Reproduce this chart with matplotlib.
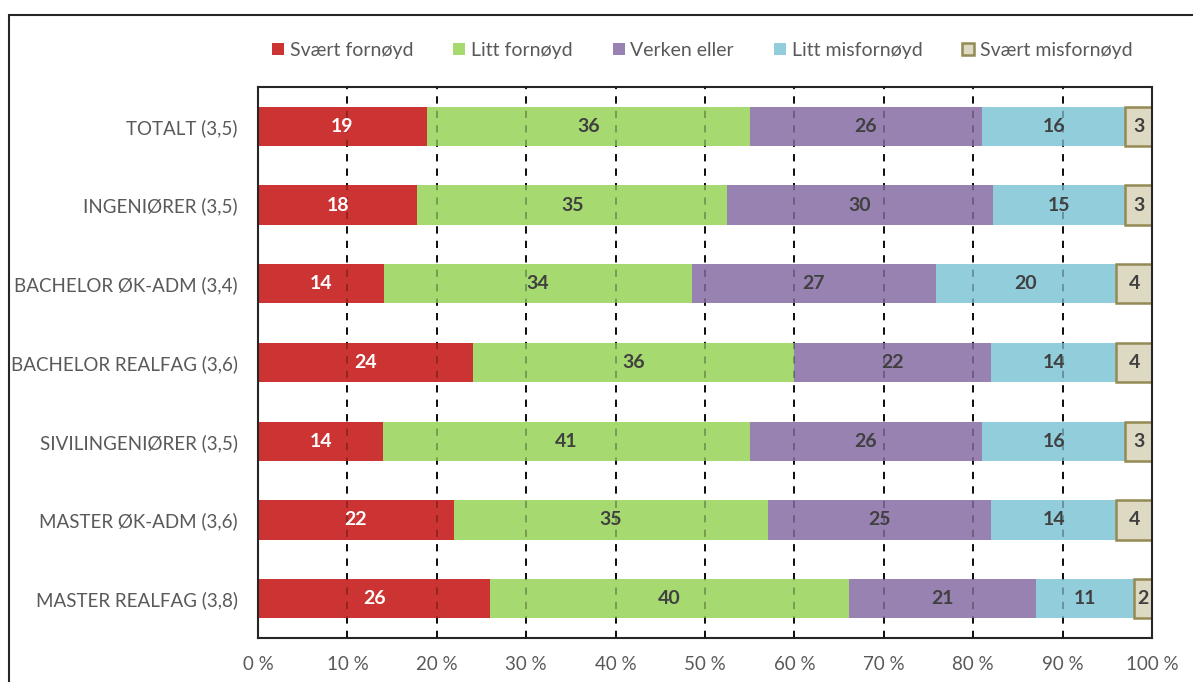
import numpy as np
import matplotlib.pyplot as plt
from matplotlib.patches import Rectangle

plt.rcParams['font.family'] = ['Lato', 'DejaVu Sans']

categories = ["TOTALT (3,5)", "INGENIØRER (3,5)", "BACHELOR ØK-ADM (3,4)",
              "BACHELOR REALFAG (3,6)", "SIVILINGENIØRER (3,5)",
              "MASTER ØK-ADM (3,6)", "MASTER REALFAG (3,8)"]
series_names = ["Svært fornøyd", "Litt fornøyd", "Verken eller",
                "Litt misfornøyd", "Svært misfornøyd"]

svaert_fornoyd = [18.9, 17.8, 14.1, 24.0, 14.0, 21.9, 26.0]
litt_fornoyd = [36.1, 34.7, 34.4, 36.0, 41.0, 35.1, 40.1]
verken_eller = [26.0, 29.7, 27.3, 22.0, 26.0, 25.0, 20.9]
litt_misfornoyd = [16.0, 14.8, 20.2, 14.0, 16.0, 14.0, 11.0]
svaert_misfornoyd = [3.0, 3.0, 4.0, 4.0, 3.0, 4.0, 2.0]

ticks = [0, 10, 20, 30, 40, 50, 60, 70, 80, 90, 100]
tick_labels = [f"{t} %" for t in ticks]

series = [svaert_fornoyd, litt_fornoyd, verken_eller, litt_misfornoyd, svaert_misfornoyd]
colors = ["#CC3333", "#A6D96F", "#9882B2", "#92CDDC", "#DDD9C3"]
edges = [None, None, None, None, "#948A54"]
label_colors = ["white", "#404040", "#404040", "#404040", "#404040"]
grey = "#595959"

fig = plt.figure(figsize=(11.93, 6.82), dpi=100)
ax = fig.add_axes([258 / 1193, 1 - 638 / 682, (1152 - 258) / 1193, (638 - 87) / 682])

# outer chart frame
fig.patches.append(Rectangle((9 / 1193, -0.1), 1.2, 1.1 - 15 / 682, transform=fig.transFigure,
                             fill=False, edgecolor="#262626", linewidth=1.5))

y = np.arange(len(categories))
left = np.zeros(len(categories))
for vals, name, c, ec, lc in zip(series, series_names, colors, edges, label_colors):
    vals = np.array(vals)
    if ec:
        ax.barh(y, vals, left=left, height=0.5, color=c, edgecolor=ec,
                linewidth=1.8, label=name, zorder=2)
    else:
        ax.barh(y, vals, left=left, height=0.5, color=c, label=name, zorder=2)
    for yi, l, v in zip(y, left, vals):
        ax.text(l + v / 2, yi, f"{v:.0f}", ha="center", va="center",
                fontsize=14, fontweight="bold", color=lc, zorder=4)
    left = left + vals

# dashed gridlines: black behind bars, faint on top of them
for t in ticks[1:-1]:
    ax.axvline(t, color="black", linestyle=(0, (4, 4)), linewidth=1.3, zorder=1)
    ax.axvline(t, color="black", linestyle=(0, (4, 4)), linewidth=1.3, alpha=0.3, zorder=3)

ax.set_xlim(0, 100)
ax.set_ylim(len(categories) - 0.5, -0.5)
ax.set_yticks(y)
ax.set_yticklabels(categories, fontsize=13.5, color=grey)
ax.set_xticks(ticks)
ax.set_xticklabels(tick_labels, fontsize=13.5, color=grey)
ax.tick_params(length=0, pad=13)
ax.tick_params(axis="y", pad=14.5)
for s in ax.spines.values():
    s.set_color("#262626")
    s.set_linewidth(1.5)

fig.legend(loc="upper left", bbox_to_anchor=(268 / 1193, 1 - 38 / 682), ncol=5, frameon=False,
           fontsize=14, labelcolor=grey, handlelength=0.62, handleheight=0.62,
           handletextpad=0.3, columnspacing=2.05, borderaxespad=0, borderpad=0.2)

fig.savefig("out.png", dpi=100)
